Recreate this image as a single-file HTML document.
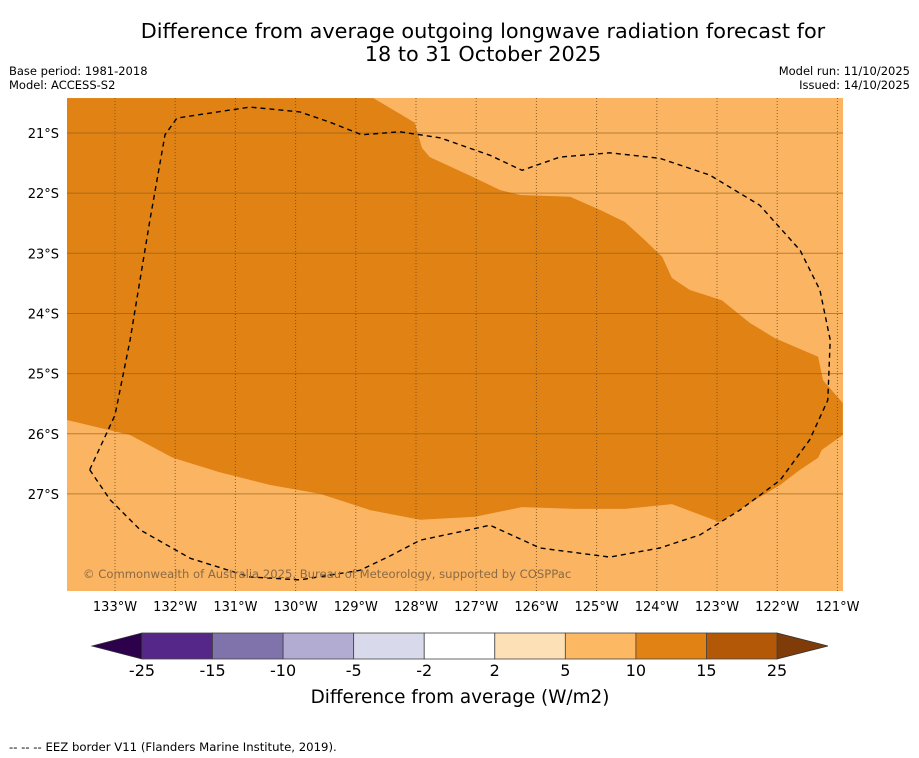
<!DOCTYPE html>
<html><head><meta charset="utf-8"><style>
body{margin:0;background:#fff;width:919px;height:758px;overflow:hidden;font-family:"DejaVu Sans","Liberation Sans",sans-serif;}
svg{display:block}
</style></head><body>
<svg id="chart" width="919" height="758">
<text x="483" y="38" text-anchor="middle" font-size="20.8">Difference from average outgoing longwave radiation forecast for</text>
<text x="483" y="61" text-anchor="middle" font-size="20.8">18 to 31 October 2025</text>
<text x="9" y="75" font-size="11.5">Base period: 1981-2018</text>
<text x="9" y="89" font-size="11.5">Model: ACCESS-S2</text>
<text x="910" y="75" font-size="11.5" text-anchor="end">Model run: 11/10/2025</text>
<text x="910" y="89" font-size="11.5" text-anchor="end">Issued: 14/10/2025</text>
<defs><clipPath id="mapclip"><rect x="67" y="98" width="776" height="493"/></clipPath></defs>
<g id="map" clip-path="url(#mapclip)">
<rect x="67" y="98" width="776" height="493" fill="#fbb461"/>
</g>
<g id="axes"></g>
<text x="83" y="578" font-size="11.6" fill="#8a6a45">© Commonwealth of Australia 2025, Bureau of Meteorology, supported by COSPPac</text>
<g id="cbar"></g>
<text x="460" y="703" text-anchor="middle" font-size="18.4">Difference from average (W/m2)</text>
<text x="9" y="751" font-size="11.7">-- -- -- EEZ border V11 (Flanders Marine Institute, 2019).</text>
</svg>
<script>
const lonTicks=[133,132,131,130,129,128,127,126,125,124,123,122,121];
const latTicks=[21,22,23,24,25,26,27];
const anomLon=[133.8,128.71,128.02,127.9,127.77,127.1,126.6,126.27,125.44,124.94,124.53,124.2,123.91,123.75,123.45,122.92,122.45,122.04,121.32,121.24,120.91,120.91,121.26,121.32,121.62,121.95,122.37,122.95,123.75,124.53,125.36,126.24,127.02,127.93,128.76,129.59,130.43,131.26,132.04,132.75,133.8];
const anomLat=[20.42,20.42,20.83,21.25,21.4,21.71,21.95,22.03,22.06,22.28,22.48,22.78,23.06,23.41,23.61,23.78,24.16,24.41,24.72,25.11,25.49,26.02,26.27,26.4,26.6,26.85,27.1,27.47,27.17,27.25,27.25,27.22,27.38,27.43,27.27,27.0,26.85,26.64,26.4,26.02,25.77];
const eezLon=[133.42,133.0,132.75,132.42,132.17,131.97,130.76,129.93,129.43,128.9,128.27,127.6,126.77,126.24,125.61,124.78,123.95,123.12,122.29,121.62,121.29,121.12,121.16,121.46,121.95,122.62,123.28,123.95,124.78,125.94,126.77,127.27,127.93,128.43,128.93,129.93,130.76,131.75,132.58,133.08,133.42];
const eezLat=[26.6,25.69,24.44,22.45,21.03,20.75,20.57,20.65,20.82,21.03,20.98,21.08,21.37,21.62,21.4,21.33,21.42,21.7,22.2,22.95,23.61,24.44,25.44,26.1,26.77,27.27,27.68,27.9,28.05,27.9,27.52,27.63,27.77,28.03,28.27,28.43,28.38,28.07,27.6,27.1,26.6];
const cbLevels=["-25","-15","-10","-5","-2","2","5","10","15","25"];
const cbColors=["#542788","#8073ac","#b2abd2","#d8daeb","#ffffff","#fee0b6","#fdb863","#e08214","#b35806"];
const cbUnder="#2d004b", cbOver="#7f3b08";

const NS="http://www.w3.org/2000/svg";
const X=lon=>115+(133-lon)*60.2;
const Y=lat=>133+(lat-21)*60.15;
function mk(t,a,p){const e=document.createElementNS(NS,t);for(const k in a)e.setAttribute(k,a[k]);p.appendChild(e);return e;}
const map=document.getElementById('map');
const axes=document.getElementById('axes');
const cb=document.getElementById('cbar');

let d=anomLon.map((l,i)=>(i?'L':'M')+X(l).toFixed(1)+','+Y(anomLat[i]).toFixed(1)).join('')+'Z';
const poly=mk('path',{d:d,fill:'#e08214'},map);



lonTicks.forEach(l=>{
 const g=mk('line',{x1:X(l),x2:X(l),y1:98,y2:591,stroke:'#6b4a1a','stroke-width':1,'stroke-dasharray':'1,2','stroke-opacity':0.8},map);
 
 
 const t=mk('text',{x:X(l),y:611,'text-anchor':'middle','font-size':13},axes);
 t.textContent=l+'°W';
 
 
});
latTicks.forEach(l=>{
 const g=mk('line',{x1:67,x2:843,y1:Y(l),y2:Y(l),stroke:'#8a5a1a','stroke-width':1,'stroke-opacity':0.6},map);
 
 
 const t=mk('text',{x:59,y:Y(l)+5,'text-anchor':'end','font-size':13},axes);
 t.textContent=l+'°S';
 
 
});
let e=eezLon.map((l,i)=>(i?'L':'M')+X(l).toFixed(1)+','+Y(eezLat[i]).toFixed(1)).join('');
const ez=mk('path',{d:e,fill:'none',stroke:'#000','stroke-width':1.4,'stroke-dasharray':'5,4','stroke-linejoin':'round'},map);



const cx0=142,cx1=777,cy=633,ch=26,n=cbColors.length,w=(cx1-cx0)/n;
const under=mk('polygon',{points:`${cx0},${cy} ${cx0},${cy+ch} 92,${cy+ch/2}`,fill:cbUnder,stroke:'#333','stroke-width':0.8},cb);


const over=mk('polygon',{points:`${cx1},${cy} ${cx1},${cy+ch} 828,${cy+ch/2}`,fill:cbOver,stroke:'#333','stroke-width':0.8},cb);


cbColors.forEach((c,i)=>{
 const r=mk('rect',{x:cx0+i*w,y:cy,width:w,height:ch,fill:c,stroke:'#444','stroke-width':0.8},cb);
 
 
});
cbLevels.forEach((v,i)=>{
 const t=mk('text',{x:cx0+i*w,y:676,'text-anchor':'middle','font-size':16},cb);
 t.textContent=v;
 
 
});
</script>
</body></html>
